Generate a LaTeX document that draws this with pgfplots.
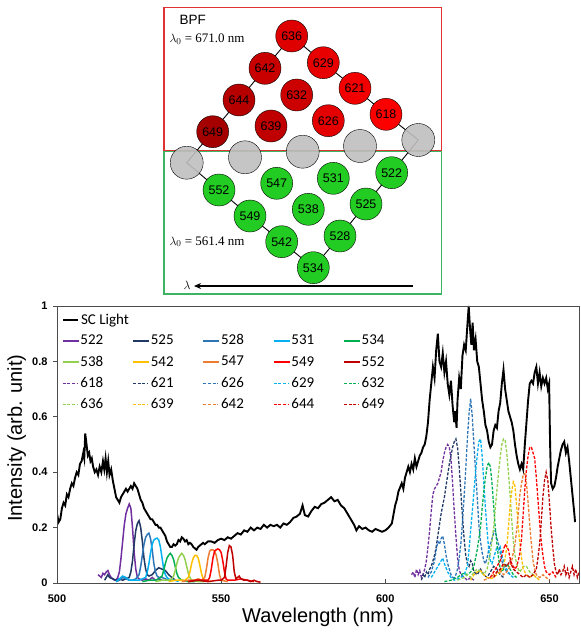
\documentclass[border=0pt]{standalone}
\usepackage{fontspec}
\setmainfont{Liberation Sans}
\newfontfamily\serif{Liberation Serif}
\newfontfamily\calibrifont{Carlito}
\usepackage{pgfplots}
\pgfplotsset{compat=1.18}
\usetikzlibrary{arrows.meta}
\definecolor{c522}{HTML}{7030A0}
\definecolor{c525}{HTML}{203864}
\definecolor{c528}{HTML}{2E75B6}
\definecolor{c531}{HTML}{00B0F0}
\definecolor{c534}{HTML}{00B050}
\definecolor{c538}{HTML}{92D050}
\definecolor{c542}{HTML}{FFC000}
\definecolor{c547}{HTML}{ED7D31}
\definecolor{c549}{HTML}{FF0000}
\definecolor{c552}{HTML}{C00000}
\definecolor{r636}{RGB}{222,0,0}
\definecolor{r629}{RGB}{232,0,0}
\definecolor{r621}{RGB}{242,0,0}
\definecolor{r618}{RGB}{252,0,0}
\definecolor{r642}{RGB}{200,0,0}
\definecolor{r644}{RGB}{182,0,0}
\definecolor{r649}{RGB}{165,0,0}
\definecolor{r632}{RGB}{205,0,0}
\definecolor{r639}{RGB}{192,0,0}
\definecolor{r626}{RGB}{228,0,0}
\definecolor{gcirc}{RGB}{34,204,34}
\definecolor{grayc}{RGB}{191,191,191}
\definecolor{boxred}{RGB}{224,50,50}
\definecolor{boxgreen}{RGB}{60,180,100}
\pgfplotsset{
  circ/.style={only marks, mark=*, mark size=16pt, mark options={draw=none, fill=#1},
    point meta=explicit symbolic, nodes near coords,
    every node near coord/.append style={anchor=center, font=\fontsize{12.5}{14}\selectfont, text=black}},
  mainframe/.style={at={(57pt,50pt)}, anchor=south west, scale only axis,
    width=522pt, height=277pt, xmin=500, xmax=659, ymin=0, ymax=1,
    legend cell align=left,
    legend image code/.code={\draw[##1] (0pt,0pt) -- (15pt,0pt);},
    legend style={at={(axis description cs:0,1)}, anchor=north west, xshift=2pt, yshift=-4pt,
      draw=none, fill=none, font=\calibrifont\fontsize{15}{17}\selectfont,
      row sep=5.6pt, /tikz/every even column/.append style={column sep=0pt}}},
}
\newcommand{\lgd}[1]{\addlegendentry{\makebox[50pt][l]{#1}}}
\newcommand{\solimg}[1]{\addlegendimage{legend image code/.code={\fill[#1] (0pt,-0.75pt) rectangle (15pt,0.75pt);}}}
\newcommand{\dshimg}[1]{\addlegendimage{color=#1, line width=1.3pt, dash pattern=on 3pt off 1.6pt}}
\begin{document}
\begin{tikzpicture}
\path[use as bounding box] (0,0) rectangle (581pt,633pt);
% ---------------- top diagram ----------------
\begin{axis}[at={(0pt,333pt)}, anchor=south west, scale only axis,
  width=581pt, height=300pt, xmin=0, xmax=581, ymin=0, ymax=300,
  y dir=reverse, hide axis, clip=false]
\draw[boxred, line width=1.4pt] (axis cs:164,7.3) rectangle (axis cs:441.7,150.7);
\draw[boxgreen, line width=1.4pt] (axis cs:164,151.7) rectangle (axis cs:441.7,294);
\addplot[black, line width=0.9pt] coordinates {(212.7,131.7) (239,100) (265,68.3) (291.7,36) (323.3,62.7) (355,88.3) (386,114.3) (418.3,140) (391.7,172.7) (366,204) (340,236) (313.3,267.7) (281.7,241.7) (250,216) (219,190) (186.7,162.7) (212.7,131.7)};
\addplot[circ=r636] coordinates {(291.7,36) [636]};
\addplot[circ=r629] coordinates {(323.3,62.7) [629]};
\addplot[circ=r621] coordinates {(355,88.3) [621]};
\addplot[circ=r618] coordinates {(386,114.3) [618]};
\addplot[circ=r642] coordinates {(265,68.3) [642]};
\addplot[circ=r644] coordinates {(239,100) [644]};
\addplot[circ=r649] coordinates {(212.7,131.7) [649]};
\addplot[circ=r632] coordinates {(296.7,95) [632]};
\addplot[circ=r639] coordinates {(271,126) [639]};
\addplot[circ=r626] coordinates {(328.3,120.7) [626]};
\addplot[circ=gcirc] coordinates {(219,190) [552] (250,216) [549] (281.7,241.7) [542] (313.3,267.7) [534] (340,236) [528] (366,204) [525] (391.7,172.7) [522] (276.7,183.3) [547] (308.3,209.3) [538] (333.3,178.3) [531]};
\addplot[only marks, mark=*, mark size=16.5pt, mark options={draw=none, fill=grayc, fill opacity=0.9}] coordinates {(186.7,162.7) (245,157.3) (302.7,151.7) (360,146) (418.3,140)};
\node[anchor=west, font=\fontsize{13.5}{15}\selectfont] at (axis cs:176,20) {BPF};
\node[anchor=west, font=\serif\fontsize{13}{15}\selectfont] at (axis cs:166,39.3) {$\lambda_0$ = 671.0 nm};
\node[anchor=west, font=\serif\fontsize{13}{15}\selectfont] at (axis cs:166,241.7) {$\lambda_0$ = 561.4 nm};
\draw[-{Stealth[length=7pt,width=6pt]}, line width=1.1pt] (axis cs:413,286) -- (axis cs:194,286);
\node[anchor=center, font=\fontsize{12}{14}\selectfont] at (axis cs:187,285) {$\lambda$};
\end{axis}
% ---------------- SC light (underlay axis) ----------------
\begin{axis}[mainframe, hide axis]
\addplot[black, line width=1.9pt] coordinates {
(500.0,0.25) (500.5,0.22) (501.0,0.23) (501.5,0.27) (502.0,0.29) (502.5,0.28) (503.0,0.32) (503.5,0.31) (504.0,0.34) (504.5,0.36)
(505.0,0.35) (505.5,0.38) (506.0,0.40) (506.5,0.39) (507.0,0.43) (507.5,0.44) (508.0,0.47) (508.3,0.45) (508.6,0.54) (509.0,0.50)
(509.4,0.46) (509.8,0.47) (510.2,0.44) (510.6,0.45) (511.0,0.42) (511.5,0.40) (512.0,0.41) (512.5,0.39) (513.0,0.42) (513.5,0.40)
(514.0,0.44) (514.4,0.41) (514.8,0.45) (515.2,0.40) (515.6,0.44) (516.0,0.39) (516.5,0.41) (517.0,0.37) (517.5,0.34) (518.0,0.31)
(518.5,0.30) (519.0,0.29) (519.5,0.31) (520.0,0.32) (520.5,0.33) (521.0,0.34) (521.5,0.33) (522.0,0.34) (522.5,0.35) (523.0,0.34)
(523.5,0.36) (524.0,0.35) (524.5,0.34) (525.0,0.32) (525.5,0.30) (526.0,0.29) (526.5,0.27) (527.0,0.26) (527.5,0.25) (528.0,0.24)
(528.5,0.23) (529.0,0.23) (529.5,0.22) (530.0,0.21) (530.5,0.21) (531.0,0.20) (531.5,0.20) (532.0,0.19) (532.5,0.18) (533.0,0.17)
(533.5,0.15) (534.0,0.14) (534.5,0.13) (535.0,0.13) (535.5,0.14) (536.0,0.135) (536.5,0.14) (537.0,0.155) (537.5,0.15) (538.0,0.165)
(538.5,0.16) (539.0,0.15) (539.5,0.155) (540.0,0.14) (540.5,0.145) (541.0,0.14) (541.5,0.13) (542.0,0.125) (542.5,0.12) (543.0,0.13)
(543.5,0.135) (544.0,0.14) (544.5,0.145) (545.0,0.14) (545.5,0.145) (546.0,0.15) (547.0,0.15) (548.0,0.145) (549.0,0.155) (550.0,0.16)
(551.0,0.155) (552.0,0.165) (553.0,0.16) (554.0,0.17) (555.0,0.18) (556.0,0.175) (557.0,0.19) (558.0,0.185) (559.0,0.20) (560.0,0.19)
(561.0,0.20) (562.0,0.195) (563.0,0.21) (564.0,0.20) (565.0,0.21) (566.0,0.205) (567.0,0.21) (568.0,0.20) (569.0,0.215) (570.0,0.21)
(571.0,0.22) (572.0,0.235) (573.0,0.24) (574.0,0.25) (574.8,0.28) (575.5,0.245) (576.5,0.24) (577.5,0.26) (578.5,0.275) (579.5,0.27)
(580.5,0.285) (581.5,0.29) (582.5,0.30) (583.5,0.31) (584.5,0.295) (585.5,0.30) (586.5,0.28) (587.5,0.27) (588.5,0.25) (589.5,0.23)
(590.5,0.21) (591.2,0.19) (592.0,0.205) (593.0,0.195) (594.0,0.20) (595.0,0.19) (596.0,0.185) (597.0,0.195) (598.0,0.19) (599.0,0.185)
(600.0,0.19) (601.0,0.20) (602.0,0.215) (603.0,0.28) (603.5,0.30) (604.0,0.33) (605.0,0.36) (605.5,0.34) (606.0,0.38) (607.0,0.42)
(607.5,0.40) (608.0,0.43) (608.5,0.41) (609.0,0.45) (609.5,0.42) (610.0,0.44) (610.5,0.46) (611.0,0.47) (611.5,0.49) (612.0,0.50)
(612.5,0.53) (613.0,0.58) (613.5,0.66) (614.0,0.72) (614.5,0.78) (615.0,0.74) (615.5,0.84) (616.0,0.90) (616.5,0.80) (617.0,0.78)
(617.5,0.83) (618.0,0.76) (618.5,0.80) (619.0,0.72) (619.5,0.68) (620.0,0.73) (620.5,0.64) (621.0,0.58) (621.3,0.62) (621.7,0.56)
(622.0,0.66) (622.5,0.74) (623.0,0.70) (623.5,0.82) (624.0,0.86) (624.5,0.84) (625.0,0.93) (625.4,1.00) (625.8,0.92) (626.2,0.86)
(626.6,0.94) (627.0,0.84) (627.5,0.88) (628.0,0.80) (628.5,0.78) (629.0,0.72) (629.5,0.66) (630.0,0.62) (630.5,0.57) (631.0,0.55)
(631.5,0.51) (632.0,0.49) (632.5,0.50) (633.0,0.55) (633.5,0.57) (634.0,0.56) (634.5,0.62) (635.0,0.65) (635.5,0.72) (636.0,0.77)
(636.5,0.70) (637.0,0.66) (637.5,0.62) (638.0,0.60) (638.5,0.58) (639.0,0.55) (639.5,0.50) (640.0,0.46) (640.5,0.43) (641.0,0.41)
(641.5,0.43) (642.0,0.41) (642.5,0.50) (643.0,0.58) (643.5,0.66) (644.0,0.72) (644.5,0.73) (645.0,0.72) (645.5,0.76) (646.0,0.78)
(646.5,0.72) (647.0,0.76) (647.5,0.71) (648.0,0.74) (648.5,0.72) (649.0,0.74) (649.5,0.70) (649.9,0.72) (650.2,0.50) (650.5,0.36)
(651.0,0.34) (651.5,0.35) (652.0,0.38) (652.5,0.42) (653.0,0.45) (653.5,0.48) (654.0,0.50) (654.5,0.51) (655.0,0.47) (655.5,0.49)
(656.0,0.44) (656.5,0.38) (657.0,0.32) (657.5,0.26) (657.8,0.22)};
\addlegendentry{SC Light}
\end{axis}
% ---------------- main chart ----------------
\begin{axis}[mainframe,
  xtick={500,550,600,650}, ytick={0,0.2,0.4,0.6,0.8,1},
  xtick pos=bottom, ytick pos=left, xtick align=inside, ytick align=outside,
  major tick length=4pt,
  axis line style={draw=black!70, line width=0.9pt},
  tick style={black!70, line width=0.8pt},
  /pgf/number format/assume math mode=true,
  tick label style={font=\bfseries\fontsize{11}{13}\selectfont},
  xticklabel style={yshift=-8pt},
  yticklabel style={xshift=-2pt},
  xlabel={Wavelength (nm)}, ylabel={Intensity (arb. unit)},
  label style={font=\fontsize{20}{24}\selectfont},
  xlabel style={at={(axis description cs:0.5,-0.144)}, anchor=base},
  ylabel style={at={(axis description cs:-0.077,0.523)}, anchor=center},
  legend columns=5,
  legend style={yshift=-20.5pt},
]
% solid
\addplot[forget plot, color=c522, solid, line width=1.5pt] coordinates {(512.5,0.03) (513.0,0.025) (513.5,0.02) (514.0,0.035) (514.5,0.03) (515.0,0.04) (515.5,0.045) (516.0,0.03) (516.5,0.02) (517.0,0.015) (517.5,0.01) (518.0,0.01) (518.5,0.02) (519.0,0.04) (519.5,0.09) (520.0,0.15) (520.5,0.21) (521.0,0.25) (521.5,0.27) (522.0,0.285) (522.5,0.27) (523.0,0.20) (523.5,0.11) (524.0,0.05) (524.5,0.02) (525.0,0.015) (526.0,0.01) (527.0,0.015) (528.0,0.01) (529.0,0.02) (530.0,0.01) (531.0,0.015) (532.0,0.01)};
\addplot[forget plot, color=c525, solid, line width=1.5pt] coordinates {(514.5,0.01) (515.0,0.02) (515.5,0.03) (516.0,0.02) (517.0,0.015) (518.0,0.01) (519.0,0.015) (520.0,0.01) (521.0,0.015) (522.0,0.02) (522.5,0.04) (523.0,0.08) (523.5,0.14) (524.0,0.19) (524.5,0.215) (525.0,0.225) (525.5,0.20) (526.0,0.15) (526.5,0.09) (527.0,0.05) (527.5,0.03) (528.0,0.025) (529.0,0.03) (530.0,0.045) (531.0,0.055) (532.0,0.05) (533.0,0.045) (534.0,0.03) (535.0,0.02) (536.0,0.01)};
\addplot[forget plot, color=c528, solid, line width=1.5pt] coordinates {(518.0,0.005) (519.0,0.01) (520.0,0.02) (521.0,0.015) (522.0,0.01) (523.0,0.01) (524.0,0.015) (525.0,0.03) (525.5,0.06) (526.0,0.10) (526.5,0.14) (527.0,0.165) (527.5,0.175) (528.0,0.18) (528.5,0.16) (529.0,0.12) (529.5,0.07) (530.0,0.04) (530.5,0.025) (531.0,0.02) (532.0,0.02) (533.0,0.015) (534.0,0.01) (535.0,0.01)};
\addplot[forget plot, color=c531, solid, line width=1.5pt] coordinates {(518.0,0.005) (519.0,0.015) (520.0,0.025) (521.0,0.02) (522.0,0.01) (523.0,0.01) (524.0,0.01) (525.0,0.01) (526.0,0.015) (527.0,0.02) (527.5,0.04) (528.0,0.07) (528.5,0.11) (529.0,0.14) (529.5,0.155) (530.0,0.16) (530.5,0.162) (531.0,0.155) (531.5,0.13) (532.0,0.09) (532.5,0.05) (533.0,0.03) (533.5,0.02) (534.0,0.015) (535.0,0.01) (536.0,0.01) (537.0,0.005)};
\addplot[forget plot, color=c534, solid, line width=1.5pt] coordinates {(526.0,0.005) (528.0,0.01) (530.0,0.01) (531.0,0.015) (532.0,0.025) (532.5,0.045) (533.0,0.07) (533.5,0.09) (534.0,0.10) (534.5,0.107) (535.0,0.10) (535.5,0.085) (536.0,0.06) (536.5,0.035) (537.0,0.02) (538.0,0.01) (540.0,0.005) (542.0,0.005)};
\addplot[forget plot, color=c538, solid, line width=1.5pt] coordinates {(530.0,0.005) (532.0,0.01) (534.0,0.01) (535.0,0.015) (535.5,0.025) (536.0,0.045) (536.5,0.07) (537.0,0.09) (537.5,0.10) (538.0,0.107) (538.5,0.10) (539.0,0.085) (539.5,0.06) (540.0,0.035) (540.5,0.02) (541.0,0.01) (543.0,0.005) (545.0,0.005)};
\addplot[forget plot, color=c542, solid, line width=1.5pt] coordinates {(534.0,0.005) (536.0,0.01) (538.0,0.01) (539.0,0.01) (540.0,0.02) (540.5,0.04) (541.0,0.07) (541.5,0.09) (542.0,0.10) (542.5,0.10) (543.0,0.09) (543.5,0.065) (544.0,0.035) (544.5,0.015) (545.0,0.01) (547.0,0.005)};
\addplot[forget plot, color=c547, solid, line width=1.5pt] coordinates {(538.0,0.005) (540.0,0.01) (542.0,0.01) (543.0,0.015) (544.0,0.01) (545.0,0.02) (545.5,0.05) (546.0,0.09) (546.5,0.115) (547.0,0.12) (547.5,0.12) (548.0,0.115) (548.5,0.10) (549.0,0.07) (549.5,0.03) (550.0,0.01) (552.0,0.005)};
\addplot[forget plot, color=c549, solid, line width=1.5pt] coordinates {(540.0,0.005) (542.0,0.01) (544.0,0.01) (546.0,0.01) (546.5,0.02) (547.0,0.05) (547.5,0.09) (548.0,0.115) (548.5,0.12) (549.0,0.123) (549.5,0.12) (550.0,0.11) (550.5,0.08) (551.0,0.04) (551.5,0.015) (552.0,0.01) (554.0,0.01) (556.0,0.015) (558.0,0.01) (560.0,0.005)};
\addplot[forget plot, color=c552, solid, line width=1.5pt] coordinates {(540.0,0.005) (543.0,0.01) (546.0,0.005) (549.0,0.01) (550.0,0.01) (551.0,0.02) (551.5,0.06) (552.0,0.11) (552.5,0.135) (553.0,0.13) (553.5,0.10) (554.0,0.04) (554.5,0.015) (555.0,0.02) (555.5,0.025) (556.0,0.015) (557.0,0.01) (558.0,0.01) (559.0,0.005) (560.0,0.01) (561.0,0.005) (562.0,0.003)};
% dashed
\addplot[forget plot, color=c522, line width=1.3pt, dash pattern=on 3pt off 1.6pt] coordinates {(608.0,0.03) (608.5,0.04) (609.0,0.02) (609.5,0.05) (610.0,0.03) (610.5,0.045) (611.0,0.02) (611.5,0.03) (612.0,0.05) (612.5,0.08) (613.0,0.13) (613.5,0.19) (614.0,0.26) (614.5,0.32) (615.0,0.34) (615.5,0.35) (616.0,0.36) (616.5,0.38) (617.0,0.40) (617.5,0.44) (618.0,0.47) (618.5,0.49) (619.0,0.50) (619.5,0.49) (620.0,0.45) (620.5,0.36) (621.0,0.26) (621.5,0.17) (622.0,0.09) (622.5,0.05) (623.0,0.03) (624.0,0.02) (625.0,0.01) (626.0,0.02) (627.0,0.01)};
\addplot[forget plot, color=c525, line width=1.3pt, dash pattern=on 3pt off 1.6pt] coordinates {(611.0,0.01) (611.5,0.03) (612.0,0.02) (612.5,0.04) (613.0,0.03) (613.5,0.05) (614.0,0.06) (614.5,0.08) (615.0,0.10) (615.5,0.13) (616.0,0.17) (616.5,0.21) (617.0,0.25) (617.5,0.28) (618.0,0.31) (618.5,0.35) (619.0,0.39) (619.5,0.43) (620.0,0.46) (620.5,0.49) (621.0,0.51) (621.5,0.52) (622.0,0.49) (622.5,0.42) (623.0,0.33) (623.5,0.24) (624.0,0.16) (624.5,0.10) (625.0,0.07) (625.5,0.06) (626.0,0.08) (626.5,0.07) (627.0,0.04) (628.0,0.03) (629.0,0.05) (630.0,0.03) (631.0,0.02) (632.0,0.04) (633.0,0.06) (634.0,0.05) (635.0,0.03) (636.0,0.02)};
\addplot[forget plot, color=c528, line width=1.3pt, dash pattern=on 3pt off 1.6pt] coordinates {(613.0,0.02) (614.0,0.04) (615.0,0.08) (615.5,0.12) (616.0,0.15) (616.5,0.14) (617.0,0.16) (617.5,0.17) (618.0,0.14) (618.5,0.10) (619.0,0.07) (619.5,0.05) (620.0,0.03) (620.5,0.02) (621.0,0.02) (621.5,0.03) (622.0,0.05) (622.5,0.09) (623.0,0.14) (623.5,0.22) (624.0,0.31) (624.5,0.41) (625.0,0.52) (625.5,0.61) (626.0,0.665) (626.5,0.60) (627.0,0.50) (627.5,0.40) (628.0,0.31) (628.5,0.21) (629.0,0.15) (629.5,0.11) (630.0,0.08) (630.5,0.07) (631.0,0.09) (631.5,0.12) (632.0,0.14) (632.5,0.16) (633.0,0.18) (633.5,0.19) (634.0,0.16) (634.5,0.14) (635.0,0.11) (635.5,0.08) (636.0,0.06) (637.0,0.04) (638.0,0.03)};
\addplot[forget plot, color=c531, line width=1.3pt, dash pattern=on 3pt off 1.6pt] coordinates {(614.0,0.02) (615.0,0.04) (616.0,0.06) (617.0,0.08) (617.5,0.09) (618.0,0.07) (619.0,0.04) (620.0,0.02) (621.0,0.01) (622.0,0.015) (623.0,0.02) (624.0,0.03) (625.0,0.06) (625.5,0.12) (626.0,0.19) (626.5,0.26) (627.0,0.33) (627.5,0.40) (628.0,0.46) (628.5,0.51) (629.0,0.52) (629.5,0.46) (630.0,0.36) (630.5,0.27) (631.0,0.19) (631.5,0.12) (632.0,0.08) (632.5,0.07) (633.0,0.09) (633.5,0.11) (634.0,0.13) (634.5,0.12) (635.0,0.13) (635.5,0.10) (636.0,0.08) (637.0,0.05) (638.0,0.03) (639.0,0.02)};
\addplot[forget plot, color=c534, line width=1.3pt, dash pattern=on 3pt off 1.6pt] coordinates {(618.0,0.005) (620.0,0.01) (621.0,0.015) (622.0,0.02) (623.0,0.03) (624.0,0.035) (625.0,0.03) (626.0,0.04) (627.0,0.06) (627.5,0.09) (628.0,0.12) (628.5,0.16) (629.0,0.20) (629.5,0.27) (630.0,0.33) (630.5,0.38) (631.0,0.42) (631.5,0.435) (632.0,0.42) (632.5,0.36) (633.0,0.28) (633.5,0.20) (634.0,0.14) (634.5,0.09) (635.0,0.05) (635.5,0.04) (636.0,0.05) (637.0,0.07) (638.0,0.05) (639.0,0.03) (640.0,0.02)};
\addplot[forget plot, color=c538, line width=1.3pt, dash pattern=on 3pt off 1.6pt] coordinates {(622.0,0.01) (624.0,0.02) (625.0,0.03) (626.0,0.02) (627.0,0.04) (628.0,0.05) (629.0,0.04) (630.0,0.03) (631.0,0.05) (631.5,0.08) (632.0,0.11) (632.5,0.15) (633.0,0.20) (633.5,0.27) (634.0,0.335) (634.5,0.40) (635.0,0.455) (635.5,0.50) (636.0,0.52) (636.5,0.515) (637.0,0.47) (637.5,0.40) (638.0,0.32) (638.5,0.23) (639.0,0.15) (639.5,0.10) (640.0,0.07) (640.5,0.05) (641.0,0.04) (642.0,0.06) (643.0,0.06) (644.0,0.04) (645.0,0.03) (646.0,0.02)};
\addplot[forget plot, color=c542, line width=1.3pt, dash pattern=on 3pt off 1.6pt] coordinates {(626.0,0.01) (627.0,0.03) (628.0,0.04) (629.0,0.045) (630.0,0.03) (631.0,0.02) (632.0,0.015) (633.0,0.02) (634.0,0.03) (635.0,0.04) (636.0,0.06) (636.5,0.09) (637.0,0.13) (637.5,0.20) (638.0,0.28) (638.5,0.33) (639.0,0.365) (639.5,0.35) (640.0,0.28) (640.5,0.20) (641.0,0.14) (641.5,0.09) (642.0,0.05) (643.0,0.03) (644.0,0.02) (645.0,0.03) (646.0,0.02) (647.0,0.01)};
\addplot[forget plot, color=c547, line width=1.3pt, dash pattern=on 3pt off 1.6pt] coordinates {(630.0,0.01) (632.0,0.02) (633.0,0.03) (634.0,0.04) (635.0,0.045) (636.0,0.03) (637.0,0.04) (638.0,0.06) (638.5,0.08) (639.0,0.11) (639.5,0.14) (640.0,0.19) (640.5,0.25) (641.0,0.32) (641.5,0.36) (642.0,0.39) (642.5,0.395) (643.0,0.36) (643.5,0.29) (644.0,0.21) (644.5,0.14) (645.0,0.08) (645.5,0.05) (646.0,0.03) (647.0,0.02) (648.0,0.03) (649.0,0.02) (650.0,0.01)};
\addplot[forget plot, color=c549, line width=1.3pt, dash pattern=on 3pt off 1.6pt] coordinates {(632.0,0.02) (633.0,0.04) (634.0,0.06) (635.0,0.08) (635.5,0.10) (636.0,0.12) (636.5,0.14) (637.0,0.13) (637.5,0.12) (638.0,0.09) (638.5,0.07) (639.0,0.06) (639.5,0.05) (640.0,0.06) (640.5,0.08) (641.0,0.11) (641.5,0.16) (642.0,0.25) (642.5,0.34) (643.0,0.41) (643.5,0.46) (644.0,0.49) (644.5,0.49) (645.0,0.47) (645.5,0.45) (646.0,0.38) (646.5,0.30) (647.0,0.22) (647.5,0.15) (648.0,0.10) (648.5,0.06) (649.0,0.04) (650.0,0.03) (651.0,0.04) (652.0,0.02)};
\addplot[forget plot, color=c552, line width=1.3pt, dash pattern=on 3pt off 1.6pt] coordinates {(633.0,0.02) (634.0,0.04) (635.0,0.05) (636.0,0.07) (637.0,0.06) (638.0,0.08) (639.0,0.05) (640.0,0.04) (641.0,0.03) (642.0,0.02) (643.0,0.03) (644.0,0.02) (645.0,0.03) (646.0,0.05) (646.5,0.09) (647.0,0.14) (647.5,0.22) (648.0,0.31) (648.5,0.37) (649.0,0.40) (649.5,0.37) (650.0,0.29) (650.5,0.20) (651.0,0.13) (651.5,0.07) (652.0,0.04) (652.5,0.03) (653.0,0.05) (653.5,0.03) (654.0,0.04) (654.5,0.06) (655.0,0.03) (655.5,0.05) (656.0,0.02) (656.5,0.04) (657.0,0.06) (657.5,0.03) (658.0,0.05) (658.5,0.02) (659.0,0.04)};
% legend
\solimg{c522}\lgd{522}
\solimg{c525}\lgd{525}
\solimg{c528}\lgd{528}
\solimg{c531}\lgd{531}
\solimg{c534}\lgd{534}
\solimg{c538}\lgd{538}
\solimg{c542}\lgd{542}
\solimg{c547}\lgd{547}
\solimg{c549}\lgd{549}
\solimg{c552}\lgd{552}
\dshimg{c522}\lgd{618}
\dshimg{c525}\lgd{621}
\dshimg{c528}\lgd{626}
\dshimg{c531}\lgd{629}
\dshimg{c534}\lgd{632}
\dshimg{c538}\lgd{636}
\dshimg{c542}\lgd{639}
\dshimg{c547}\lgd{642}
\dshimg{c549}\lgd{644}
\dshimg{c552}\lgd{649}
\end{axis}
\end{tikzpicture}
\end{document}
